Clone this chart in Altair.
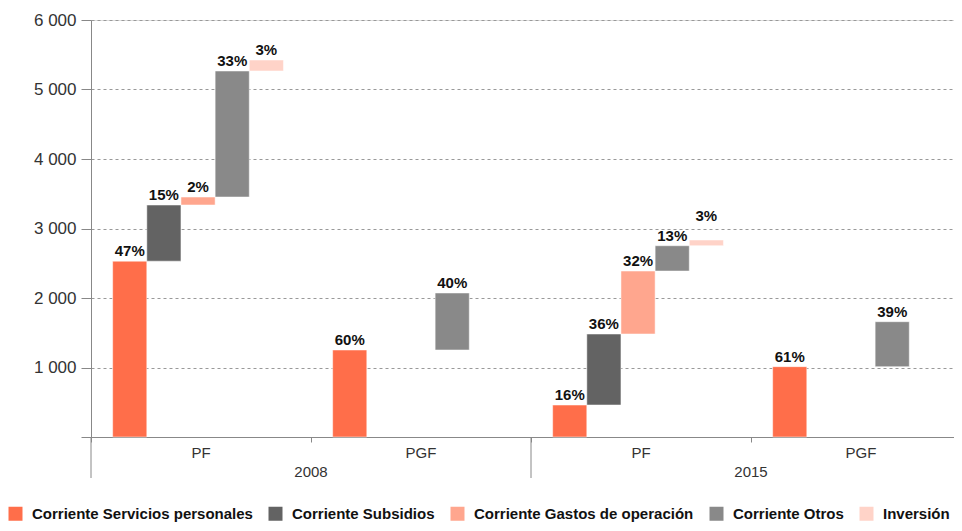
import altair as alt
import pandas as pd

years = ["2008", "2015"]
subs = ["PF", "PGF"]
series = ["Corriente Servicios personales", "Corriente Subsidios",
          "Corriente Gastos de operación", "Corriente Otros", "Inversión"]
colors = ["#ff6e4a", "#636363", "#ffa68e", "#898989", "#ffd3c8"]

# amounts per group in series order (None = not present)
v_2008_pf = [2530, 808, 115, 1813, 158]
pct_2008_pf = [47, 15, 2, 33, 3]
v_2008_pgf = [1252, None, None, 820, None]
pct_2008_pgf = [60, None, None, 40, None]
v_2015_pf = [460, 1022, 906, 364, 82]
pct_2015_pf = [16, 36, 32, 13, 3]
v_2015_pgf = [1012, None, None, 647, None]
pct_2015_pgf = [61, None, None, 39, None]

y_ticks = [0, 1000, 2000, 3000, 4000, 5000, 6000]

groups = [
    ("2008", "PF", v_2008_pf, pct_2008_pf),
    ("2008", "PGF", v_2008_pgf, pct_2008_pgf),
    ("2015", "PF", v_2015_pf, pct_2015_pf),
    ("2015", "PGF", v_2015_pgf, pct_2015_pgf),
]
keys = [f"{y} {s}" for y in years for s in subs]

rows = []
for yr, sb, vals, pcts in groups:
    cum = 0
    for s, v, p in zip(series, vals, pcts):
        if v is None:
            continue
        rows.append(dict(key=f"{yr} {sb}", year=yr, sub=sb, series=s,
                         start=cum, end=cum + v, label=f"{p}%"))
        cum += v
df = pd.DataFrame(rows)
df_years = pd.DataFrame({"year": years, "key": [f"{y} PF" for y in years]})

W, H = 880, 417
FONT = "Liberation Sans"

x_enc = alt.X("key:N", sort=keys,
              scale=alt.Scale(domain=keys, paddingInner=0, paddingOuter=0),
              axis=alt.Axis(title=None, labelExpr="split(datum.label, ' ')[1]",
                            bandPosition=0, tickSize=5, tickColor="#888",
                            domainColor="#888", labelFontSize=15, labelColor="#333",
                            labelFont=FONT, labelPadding=3, labelAngle=0, grid=False))
xo_enc = alt.XOffset("series:N", sort=series,
                     scale=alt.Scale(domain=series, paddingInner=0, paddingOuter=0.72,
                                     align=0.44))

y_enc = alt.Y("start:Q",
              scale=alt.Scale(domain=[0, 6000], nice=False),
              axis=alt.Axis(title=None, values=y_ticks,
                            labelExpr="datum.value == 0 ? '' : replace(format(datum.value, ','), ',', ' ')",
                            tickSize=10, tickColor="#888", domainColor="#888",
                            labelFontSize=17, labelColor="#333", labelFont=FONT,
                            labelPadding=5, grid=True, gridDash=[3, 3],
                            gridColor="#999", gridWidth=1))

bars = alt.Chart(df).mark_bar(stroke="white", strokeWidth=1, strokeOpacity=0.5).encode(
    x=x_enc, xOffset=xo_enc, y=y_enc, y2="end:Q",
    color=alt.Color("series:N", sort=series,
                    scale=alt.Scale(domain=series, range=colors),
                    legend=alt.Legend(title=None, orient="none", legendX=-83, legendY=486,
                                      direction="horizontal", columns=5,
                                      symbolType="square", symbolSize=196,
                                      symbolStrokeWidth=0, symbolOpacity=1,
                                      labelFont=FONT, labelFontWeight="bold",
                                      labelFontSize=15, labelColor="#111",
                                      labelLimit=0, labelOffset=9,
                                      columnPadding=15, padding=0)),
)

special = "datum.key == '2015 PF' && datum.series == 'Inversión'"

labels = alt.Chart(df).transform_filter("!(" + special + ")").mark_text(
    baseline="bottom", dy=-2, font=FONT, fontWeight="bold", fontSize=15, color="#111"
).encode(x=alt.X("key:N", sort=keys), xOffset=alt.XOffset("series:N", sort=series),
         y=alt.Y("end:Q"), text="label:N")

labels_raised = alt.Chart(df).transform_filter(special).mark_text(
    baseline="bottom", dy=-16, font=FONT, fontWeight="bold", fontSize=15, color="#111"
).encode(x=alt.X("key:N", sort=keys), xOffset=alt.XOffset("series:N", sort=series),
         y=alt.Y("end:Q"), text="label:N")

seps = alt.Chart(df_years).mark_rule(color="#888", strokeWidth=1).encode(
    x=alt.X("key:N", sort=keys, bandPosition=0),
    y=alt.value(H), y2=alt.value(H + 41))

year_text = alt.Chart(df_years).mark_text(
    baseline="middle", font=FONT, fontSize=15, color="#333"
).encode(x=alt.X("key:N", sort=keys, bandPosition=1), y=alt.value(H + 35), text="year:N")

chart = alt.layer(bars, labels, labels_raised, seps, year_text).properties(
    width=W, height=H,
    autosize=alt.AutoSizeParams(type="none"),
    padding={"left": 83, "top": 12, "right": -17, "bottom": 86},
).configure_view(stroke=None).configure(background="white")

chart.save("out.html", embed_options={"renderer": "svg", "actions": False})
